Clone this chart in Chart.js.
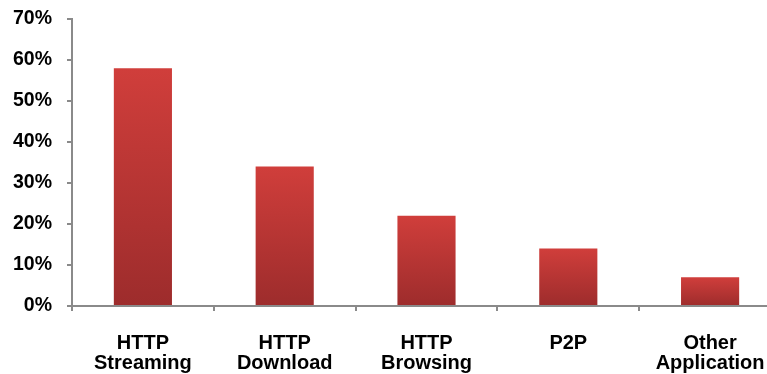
<!DOCTYPE html>
<html>
<head>
<meta charset="utf-8">
<script src="https://cdn.jsdelivr.net/npm/chart.js@4/dist/chart.umd.min.js"></script>
<style>
  html, body { margin: 0; padding: 0; background: #fff; overflow: hidden; }
  #wrap { position: relative; width: 781px; height: 374px; }
</style>
</head>
<body>
<div id="wrap"><canvas id="c"></canvas></div>
<script>
// Traffic share by application type
const categories = [["HTTP", "Streaming"], ["HTTP", "Download"], ["HTTP", "Browsing"], ["P2P"], ["Other", "Application"]];
const shares = [58, 34, 22, 14, 7];
const yTicks = [0, 10, 20, 30, 40, 50, 60, 70];

const axisGrey = '#8a8a8a';
const yFont = { family: "'Liberation Sans', Arial, sans-serif", size: 19.5, weight: 'bold' };
const xFont = { family: "'Liberation Sans', Arial, sans-serif", size: 20, weight: 'bold', lineHeight: 1.0 };

// vertical gradient per bar, light red at the top to darker red at the base
function barGradient(ctx) {
  const chart = ctx.chart;
  if (!chart.chartArea || ctx.raw == null) return '#c23a37';
  const y = chart.scales.y;
  const top = y.getPixelForValue(ctx.raw);
  const bottom = y.getPixelForValue(0);
  const g = chart.ctx.createLinearGradient(0, top, 0, bottom);
  g.addColorStop(0, '#d03e3b');
  g.addColorStop(1, '#9d2c2c');
  return g;
}

new Chart(document.getElementById('c'), {
  type: 'bar',
  data: {
    labels: categories,
    datasets: [{
      data: shares,
      backgroundColor: barGradient,
      borderWidth: 0,
      categoryPercentage: 1,
      barPercentage: 0.41
    }]
  },
  options: {
    responsive: true,
    maintainAspectRatio: false,
    animation: false,
    layout: { padding: { top: 19, right: 0, bottom: 0, left: 0 } },
    plugins: { legend: { display: false }, tooltip: { enabled: false } },
    scales: {
      x: {
        offset: true,
        grid: { offset: true, drawOnChartArea: false, drawTicks: true, tickLength: 5, color: axisGrey, lineWidth: 2 },
        border: { display: true, color: axisGrey, width: 2 },
        ticks: { color: '#000', font: xFont, padding: 22, maxRotation: 0, autoSkip: false },
        afterFit: (s) => { s.height = 68; s.paddingLeft = 0; s.paddingRight = 0; }
      },
      y: {
        min: 0,
        max: 70,
        afterBuildTicks: (s) => { s.ticks = yTicks.map(v => ({ value: v })); },
        grid: { drawOnChartArea: false, drawTicks: true, tickLength: 5, color: axisGrey, lineWidth: 2 },
        border: { display: true, color: axisGrey, width: 2 },
        ticks: { color: '#000', font: yFont, padding: 15, callback: (v) => v + '%' },
        afterFit: (s) => { s.width = 72; s.paddingTop = 0; s.paddingBottom = 0; }
      }
    }
  }
});
</script>
</body>
</html>
